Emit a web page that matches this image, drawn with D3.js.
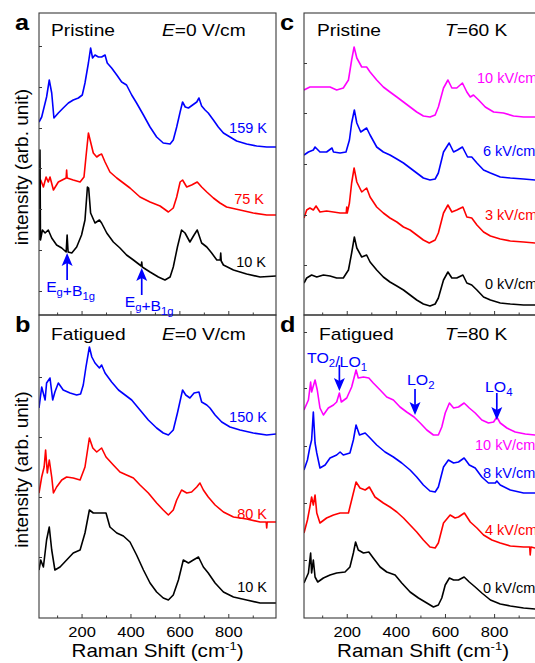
<!DOCTYPE html>
<html>
<head>
<meta charset="utf-8">
<script src="https://cdn.jsdelivr.net/npm/d3@7"></script>
<style>
  body { margin: 0; background: #fff; }
  svg { display: block; font-family: "Liberation Sans", Arial, sans-serif; }
</style>
</head>
<body>
<script>
// Raman spectra, [shift (cm-1), intensity (arb.)]
var a159 = [[26,193],[37,198],[57,218],[68,235],[78,222],[87,197],[105,202],[125,207],[146,212],[166,215],[187,217],[203,220],[214,232],[228,252],[237,267],[245,257],[255,260],[269,258],[282,258],[296,260],[305,252],[323,247],[344,240],[364,233],[384,230],[405,220],[425,212],[453,200],[480,188],[507,178],[534,172],[562,171],[575,175],[589,188],[603,203],[613,213],[624,208],[637,207],[654,210],[671,213],[680,217],[691,209],[705,205],[718,202],[739,195],[759,188],[780,182],[807,178],[834,174],[875,171],[916,169],[957,168],[995,168]];
var a75 = [[26,123],[33,135],[44,128],[55,138],[64,133],[71,138],[85,125],[105,133],[137,137],[139,145],[141,137],[166,135],[194,133],[210,138],[218,158],[228,182],[235,175],[248,162],[262,158],[273,160],[282,161],[296,153],[316,143],[344,137],[371,132],[398,127],[439,118],[480,113],[521,109],[555,103],[575,107],[589,118],[603,133],[613,135],[630,128],[650,130],[673,133],[691,128],[712,123],[739,117],[766,112],[793,108],[848,105],[902,102],[957,100],[995,100]];
var a10 = [[26,75],[30,165],[32,75],[40,85],[51,82],[64,85],[78,77],[98,70],[119,67],[137,63],[141,80],[145,63],[160,62],[180,68],[200,80],[214,95],[224,128],[229,127],[237,102],[255,92],[273,95],[282,92],[303,82],[330,73],[357,67],[384,60],[412,55],[444,49],[446,53],[448,48],[480,43],[514,38],[541,35],[562,38],[575,48],[592,68],[609,85],[623,82],[643,73],[660,80],[673,85],[691,72],[712,68],[732,62],[753,55],[767,55],[769,62],[771,54],[780,50],[821,45],[875,41],[930,38],[995,39]];

var b150 = [[26,210],[37,231],[51,218],[57,235],[71,240],[82,218],[91,226],[105,235],[125,228],[153,225],[180,223],[196,224],[207,233],[218,251],[232,271],[242,261],[255,255],[273,250],[282,253],[296,245],[323,236],[351,228],[378,223],[405,218],[439,208],[473,198],[507,190],[534,185],[555,183],[575,188],[592,205],[613,228],[626,223],[643,220],[660,225],[680,226],[691,216],[712,213],[725,210],[746,203],[773,196],[807,191],[848,188],[902,185],[957,183],[995,184]];
var b80 = [[26,125],[37,141],[47,151],[53,168],[60,145],[68,158],[78,141],[85,125],[98,131],[119,138],[139,141],[166,140],[194,138],[214,151],[232,180],[246,170],[262,166],[282,170],[300,161],[330,153],[357,146],[384,143],[412,140],[439,133],[473,125],[507,115],[534,108],[555,103],[575,108],[589,118],[609,128],[630,125],[650,126],[671,131],[684,135],[698,128],[718,121],[746,113],[780,106],[821,101],[875,99],[930,96],[955,96],[957,90],[959,96],[995,96]];
var b10 = [[26,48],[33,58],[44,51],[57,78],[68,91],[78,68],[91,48],[112,51],[139,58],[166,65],[194,68],[214,85],[232,108],[248,105],[275,105],[300,105],[316,91],[344,85],[371,82],[398,76],[425,63],[453,48],[480,35],[507,26],[534,20],[555,18],[575,23],[596,38],[616,58],[637,55],[657,58],[678,61],[698,51],[718,45],[746,35],[780,26],[821,21],[875,18],[930,15],[995,15]];

var c10 = [[26,225],[50,228],[78,228],[105,228],[132,228],[159,225],[186,227],[207,235],[220,255],[230,268],[241,257],[261,248],[281,248],[295,243],[322,235],[349,228],[376,223],[404,218],[431,213],[458,208],[485,203],[512,199],[539,198],[560,200],[573,208],[594,227],[612,235],[628,227],[648,227],[671,232],[689,223],[703,218],[716,220],[737,215],[764,208],[798,203],[838,202],[879,199],[920,198],[967,198],[995,198]];
var c6 = [[26,160],[44,163],[64,165],[71,168],[91,163],[118,163],[140,167],[146,163],[173,162],[197,163],[211,175],[220,192],[231,205],[241,192],[257,183],[281,187],[295,180],[322,168],[349,163],[376,160],[404,156],[431,152],[458,147],[485,142],[512,137],[539,135],[560,136],[573,142],[594,163],[617,172],[635,163],[651,165],[671,168],[692,158],[709,158],[730,152],[757,145],[785,142],[825,138],[866,137],[920,136],[967,135],[995,135]];
var c3 = [[26,97],[37,105],[50,107],[64,105],[75,109],[91,103],[118,104],[146,103],[173,102],[198,102],[200,108],[202,102],[211,112],[220,132],[230,147],[241,133],[261,123],[281,127],[295,118],[322,108],[349,102],[376,97],[404,93],[431,88],[458,85],[485,80],[512,75],[536,72],[560,75],[573,82],[594,102],[612,110],[628,103],[648,105],[673,108],[689,98],[709,97],[730,90],[757,83],[785,79],[825,76],[866,74],[920,73],[967,72],[995,72]];
var c0 = [[26,32],[37,37],[57,40],[78,38],[105,40],[132,39],[159,37],[186,37],[207,45],[220,62],[231,78],[241,67],[261,58],[281,60],[295,53],[322,45],[349,38],[376,33],[404,29],[431,25],[458,20],[485,15],[512,11],[539,9],[560,11],[573,17],[594,35],[612,43],[628,37],[648,37],[673,40],[689,32],[709,30],[730,25],[757,18],[785,15],[825,12],[866,11],[920,10],[995,10]];

var d10 = [[26,208],[44,218],[53,236],[57,226],[71,238],[80,228],[91,210],[105,203],[125,210],[146,213],[159,216],[170,225],[178,216],[200,220],[220,231],[238,248],[247,240],[268,241],[290,240],[308,235],[336,228],[363,221],[390,218],[417,211],[444,206],[474,201],[499,195],[526,188],[553,183],[573,183],[587,191],[601,205],[618,215],[635,210],[655,211],[678,215],[699,210],[723,205],[750,198],[777,195],[798,196],[811,201],[825,195],[852,190],[886,186],[927,184],[967,183],[995,183]];
var d8 = [[26,148],[40,158],[50,171],[57,178],[64,206],[71,175],[78,165],[91,150],[112,153],[132,160],[159,163],[173,166],[186,163],[213,165],[227,178],[238,193],[252,183],[275,185],[295,180],[322,173],[356,166],[390,161],[424,155],[458,148],[485,141],[512,133],[539,127],[560,126],[573,131],[594,151],[614,158],[635,155],[655,156],[678,160],[699,153],[723,150],[750,141],[777,135],[805,135],[811,137],[825,133],[866,128],[920,125],[967,125],[995,125]];
var d4 = [[26,85],[40,98],[50,111],[57,121],[64,113],[71,123],[78,105],[91,95],[118,100],[146,103],[173,105],[207,105],[220,118],[238,136],[254,130],[275,128],[292,131],[315,121],[349,115],[376,111],[404,106],[431,100],[458,93],[485,86],[512,78],[539,71],[560,70],[573,75],[594,95],[621,103],[641,100],[655,101],[679,105],[703,96],[730,90],[757,83],[791,78],[825,75],[866,72],[920,71],[945,71],[947,63],[950,71],[967,70],[995,70]];
var d0 = [[26,35],[44,45],[53,65],[57,45],[64,58],[71,41],[82,36],[105,40],[132,43],[159,45],[193,46],[213,51],[227,65],[236,76],[247,68],[268,65],[290,66],[308,60],[336,51],[363,46],[397,43],[424,35],[458,26],[492,20],[526,15],[553,11],[573,13],[587,20],[601,33],[618,40],[635,38],[655,38],[678,41],[699,36],[723,31],[750,25],[785,18],[825,14],[866,12],[920,10],[967,9],[995,9]];

var xMajor = [200, 400, 600, 800];
var xMinor = [100, 300, 500, 700, 900];
var aTicks = [24, 65, 106, 147, 187, 228, 269];
var bTicks = [61, 121, 181, 241];
var cTicks = [50, 100, 151, 202, 252];
var dTicks = [58, 115, 172, 230, 286];

var aModes = [141, 446];
var dModes = [170, 478, 811];

var w = 535, h = 663;
var blue = '#0000ff', red = '#ff0000', mag = '#ff00ff', blk = '#000000';
var axisColor = '#3a3a3a';

var svg = d3.select('body').append('svg')
  .attr('width', w)
  .attr('height', h);

function addText(g, x, y, size, anchor, sx) {
  return g.append('text')
    .attr('transform', 'translate(' + x + ',' + y + ') scale(' + (sx || 1) + ',1)')
    .attr('font-size', size)
    .attr('text-anchor', anchor || 'start');
}

var panels = [
  { key: 'a', left: 39, right: 276, top: 13, bottom: 315, ticks: aTicks, xLab: false,
    title: 'Pristine', cond: ['E', '=0 V/cm'], titleX: 51, condX: 162, titleY: 36, letterY: 30,
    series: [
      { d: a159, c: blue, name: '159 K', lx: 267, ly: 133, anchor: 'end' },
      { d: a75, c: red, name: '75 K', lx: 264, ly: 204, anchor: 'end' },
      { d: a10, c: blk, name: '10 K', lx: 266, ly: 267, anchor: 'end' }
    ] },
  { key: 'b', left: 39, right: 276, top: 315, bottom: 618, ticks: bTicks, xLab: true,
    title: 'Fatigued', cond: ['E', '=0 V/cm'], titleX: 51, condX: 162, titleY: 340, letterY: 332,
    series: [
      { d: b150, c: blue, name: '150 K', lx: 267, ly: 422, anchor: 'end' },
      { d: b80, c: red, name: '80 K', lx: 267, ly: 519, anchor: 'end' },
      { d: b10, c: blk, name: '10 K', lx: 267, ly: 592, anchor: 'end' }
    ] },
  { key: 'c', left: 304, right: 542, top: 13, bottom: 315, ticks: cTicks, xLab: false,
    title: 'Pristine', cond: ['T', '=60 K'], titleX: 317, condX: 445, titleY: 36, letterY: 30,
    series: [
      { d: c10, c: mag, name: '10 kV/cm', lx: 477, ly: 83, anchor: 'start' },
      { d: c6, c: blue, name: '6 kV/cm', lx: 483, ly: 156, anchor: 'start' },
      { d: c3, c: red, name: '3 kV/cm', lx: 485, ly: 220, anchor: 'start' },
      { d: c0, c: blk, name: '0 kV/cm', lx: 485, ly: 289, anchor: 'start' }
    ] },
  { key: 'd', left: 304, right: 542, top: 315, bottom: 618, ticks: dTicks, xLab: true,
    title: 'Fatigued', cond: ['T', '=80 K'], titleX: 319, condX: 445, titleY: 340, letterY: 332,
    series: [
      { d: d10, c: mag, name: '10 kV/cm', lx: 475, ly: 450, anchor: 'start' },
      { d: d8, c: blue, name: '8 kV/cm', lx: 483, ly: 478, anchor: 'start' },
      { d: d4, c: red, name: '4 kV/cm', lx: 485, ly: 535, anchor: 'start' },
      { d: d0, c: blk, name: '0 kV/cm', lx: 483, ly: 593, anchor: 'start' }
    ] }
];

var defs = svg.append('defs');

panels.forEach(function(p) {
  p.x = d3.scaleLinear().domain([26, 995]).range([p.left, p.right]);
  p.y = d3.scaleLinear().domain([0, p.bottom - p.top]).range([p.bottom, p.top]);

  defs.append('clipPath').attr('id', 'clip-' + p.key)
    .append('rect')
    .attr('x', p.left).attr('y', p.top)
    .attr('width', p.right - p.left).attr('height', p.bottom - p.top);

  var line = d3.line()
    .x(function(d) { return p.x(d[0]); })
    .y(function(d) { return p.y(d[1]); });

  var g = svg.append('g').attr('clip-path', 'url(#clip-' + p.key + ')');
  p.series.forEach(function(s) {
    g.append('path')
      .datum(s.d)
      .attr('d', line)
      .attr('fill', 'none')
      .attr('stroke', s.c)
      .attr('stroke-width', 1.6)
      .attr('stroke-linejoin', 'round');
  });

  // ticks pointing inward
  var xAx = svg.append('g')
    .attr('transform', 'translate(0,' + p.bottom + ')')
    .call(d3.axisBottom(p.x).tickValues(xMajor).tickSizeInner(-4).tickSizeOuter(0)
      .tickPadding(8).tickFormat(p.xLab ? d3.format('d') : ''));
  svg.append('g')
    .attr('transform', 'translate(0,' + p.bottom + ')')
    .call(d3.axisBottom(p.x).tickValues(xMinor).tickSizeInner(-2.5).tickSizeOuter(0).tickFormat(''));
  svg.append('g')
    .attr('transform', 'translate(' + p.left + ',0)')
    .call(d3.axisLeft(p.y).tickValues(p.ticks).tickSizeInner(-3).tickSizeOuter(0).tickFormat(''));

  svg.selectAll('.domain').remove();
  svg.selectAll('.tick line').attr('stroke', axisColor);
  xAx.selectAll('text')
    .attr('font-size', 15)
    .attr('font-family', '"Liberation Sans", Arial, sans-serif')
    .attr('fill', '#000')
    .attr('transform', 'scale(1.1,1)');

  svg.append('rect')
    .attr('x', p.left).attr('y', p.top)
    .attr('width', p.right - p.left).attr('height', p.bottom - p.top)
    .attr('fill', 'none')
    .attr('stroke', axisColor)
    .attr('stroke-width', 1.1);

  // panel letter, title, condition
  addText(svg, p.left - 24, p.letterY, 22, 'start', 1.15).attr('font-weight', 'bold').text(p.key);
  addText(svg, p.titleX, p.titleY, 16, 'start', 1.2).text(p.title);
  var cond = addText(svg, p.condX, p.titleY, 16, 'start', 1.2);
  cond.append('tspan').attr('font-style', 'italic').text(p.cond[0]);
  cond.append('tspan').text(p.cond[1]);

  p.series.forEach(function(s) {
    addText(svg, s.lx, s.ly, 14.5, s.anchor, 1).attr('fill', s.c).text(s.name);
  });

  if (p.xLab) {
    var t = addText(svg, (p.left + p.right) / 2, 657, 17.5, 'middle', 1.18);
    t.append('tspan').text('Raman Shift (cm');
    t.append('tspan').attr('font-size', 11).attr('dy', -7).text('-1');
    t.append('tspan').attr('dy', 7).text(')');
  }
});

// y axis titles
[panels[0], panels[1]].forEach(function(p) {
  svg.append('text')
    .attr('transform', 'translate(28,' + ((p.top + p.bottom) / 2 + 3) + ') rotate(-90)')
    .attr('text-anchor', 'middle')
    .attr('font-size', 19)
    .text('intensity (arb. unit)');
});

// mode markers
function arrowDown(p, xv, tipY, len) {
  var x = p.x(xv);
  svg.append('line')
    .attr('x1', x).attr('x2', x)
    .attr('y1', tipY - len).attr('y2', tipY - 8)
    .attr('stroke', blue).attr('stroke-width', 1.7);
  svg.append('path')
    .attr('d', 'M' + x + ',' + tipY + 'l-5.5,-13l5.5,3l5.5,-3z')
    .attr('fill', blue);
}
function arrowUp(p, xv, tipY, len) {
  var x = p.x(xv);
  svg.append('line')
    .attr('x1', x).attr('x2', x)
    .attr('y1', tipY + len).attr('y2', tipY + 8)
    .attr('stroke', blue).attr('stroke-width', 1.7);
  svg.append('path')
    .attr('d', 'M' + x + ',' + tipY + 'l-5.5,13l5.5,-3l5.5,3z')
    .attr('fill', blue);
}
function modeLabel(x, y, size, sx, parts) {
  var t = addText(svg, x, y, size, 'start', sx).attr('fill', blue);
  parts.forEach(function(q) {
    if (q[1]) {
      t.append('tspan').attr('font-size', size * 0.72).attr('dy', 4).text(q[0]);
      t.append('tspan').attr('dy', -4).text('');
    } else {
      t.append('tspan').text(q[0]);
    }
  });
}

var pa = panels[0], pd = panels[3];
arrowUp(pa, aModes[0], 253, 27);
arrowUp(pa, aModes[1], 268, 27);
var eg = [['E'], ['g', 1], ['+B'], ['1g', 1]];
modeLabel(pa.x(aModes[0]) - 21, 292, 14.5, 1.08, eg);
modeLabel(pa.x(aModes[1]) - 17, 307, 14.5, 1.08, eg);

arrowDown(pd, dModes[0], 391, 26);
arrowDown(pd, dModes[1], 415, 26);
arrowDown(pd, dModes[2], 420, 27);
modeLabel(307, 363, 15, 1.06, [['TO'], ['2', 1], ['/LO'], ['1', 1]]);
modeLabel(407, 385, 15, 1.06, [['LO'], ['2', 1]]);
modeLabel(485, 392, 15, 1.06, [['LO'], ['4', 1]]);
</script>
</body>
</html>
